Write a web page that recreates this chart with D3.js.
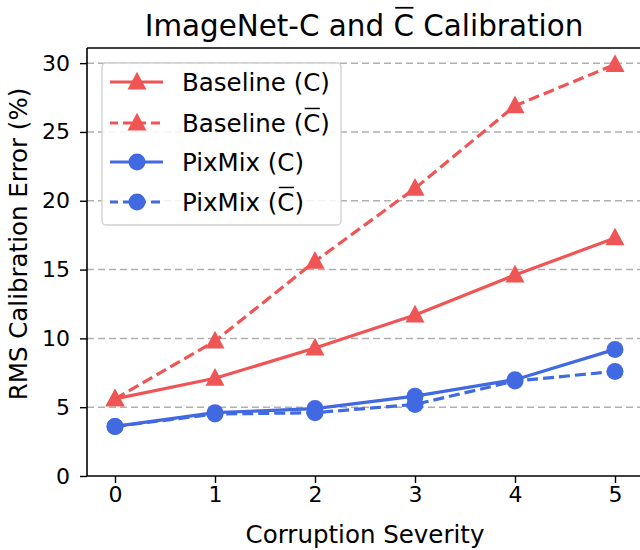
<!DOCTYPE html>
<html><head><meta charset="utf-8">
<script src="https://cdn.jsdelivr.net/npm/d3@7"></script>
<style>body{margin:0;background:#fff}svg{display:block;font-family:"DejaVu Sans",sans-serif}</style>
</head><body><svg id="c" width="640" height="550"></svg>
<script>
const severities = [0, 1, 2, 3, 4, 5];
const baselineC = [5.6, 7.1, 9.3, 11.7, 14.6, 17.3];
const baselineCbar = [5.6, 9.8, 15.6, 20.9, 26.9, 29.9];
const pixmixC = [3.6, 4.6, 4.9, 5.8, 7.0, 9.2];
const pixmixCbar = [3.6, 4.5, 4.6, 5.2, 6.9, 7.6];
const yTicks = [0, 5, 10, 15, 20, 25, 30];
const seriesNames = ["Baseline", "Baseline", "PixMix", "PixMix"];

const RED = "#ef5555", BLUE = "#4169e1";
const series = [
  {name: seriesNames[0], bar: false, vals: baselineC, color: RED, marker: "tri", dash: null},
  {name: seriesNames[1], bar: true, vals: baselineCbar, color: RED, marker: "tri", dash: "11,5"},
  {name: seriesNames[2], bar: false, vals: pixmixC, color: BLUE, marker: "circ", dash: null},
  {name: seriesNames[3], bar: true, vals: pixmixCbar, color: BLUE, marker: "circ", dash: "11,5"}
];

const svg = d3.select("#c");
const L = 87, R = 642, T = 48, B = 476;
const x = d3.scaleLinear().domain([0, 5]).range([115, 615]);
const y = d3.scaleLinear().domain([0, 31.1]).range([B, T]);

// grid
svg.append("g").selectAll("line").data(yTicks.filter(d => d > 0)).join("line")
  .attr("x1", L).attr("x2", R).attr("y1", d => y(d)).attr("y2", d => y(d))
  .attr("stroke", "#b0b0b0").attr("stroke-width", 1.5).attr("stroke-dasharray", "7,4");

function markerPath(type, cx, cy) {
  if (type === "tri") {
    const s = 9.5;
    return `M${cx},${cy - s * 1.08} L${cx + s},${cy + s * 0.78} L${cx - s},${cy + s * 0.78} Z`;
  }
  const r = 8.5;
  return `M${cx - r},${cy} a${r},${r} 0 1,0 ${2 * r},0 a${r},${r} 0 1,0 ${-2 * r},0 Z`;
}

const line = d3.line().x((d, i) => x(severities[i])).y(d => y(d));
series.forEach(s => {
  const g = svg.append("g");
  g.append("path").attr("d", line(s.vals)).attr("fill", "none")
    .attr("stroke", s.color).attr("stroke-width", 3.2)
    .attr("stroke-dasharray", s.dash);
  g.selectAll("path.m").data(s.vals).join("path").attr("class", "m")
    .attr("d", (d, i) => markerPath(s.marker, x(severities[i]), y(d)))
    .attr("fill", s.color);
});

// spines
svg.append("line").attr("x1", L).attr("x2", L).attr("y1", T).attr("y2", B).attr("stroke", "#000").attr("stroke-width", 1.6);
svg.append("line").attr("x1", L).attr("x2", R).attr("y1", B).attr("y2", B).attr("stroke", "#000").attr("stroke-width", 1.6);
svg.append("line").attr("x1", L).attr("x2", R).attr("y1", T).attr("y2", T).attr("stroke", "#000").attr("stroke-width", 1.6);

// axes
const yAxis = svg.append("g").attr("transform", `translate(${L},0)`)
  .call(d3.axisLeft(y).tickValues(yTicks).tickFormat(d3.format("d")).tickSize(7).tickPadding(10));
const xAxis = svg.append("g").attr("transform", `translate(0,${B})`)
  .call(d3.axisBottom(x).tickValues(severities).tickFormat(d3.format("d")).tickSize(7).tickPadding(3));
[yAxis, xAxis].forEach(a => {
  a.select(".domain").remove();
  a.selectAll("line").attr("stroke", "#000").attr("stroke-width", 1.4);
  a.selectAll("text").attr("font-size", 22).attr("fill", "#000").attr("font-family", "DejaVu Sans");
});

// titles
svg.append("text").attr("x", 365).attr("y", 543).attr("text-anchor", "middle")
  .attr("font-size", 24.5).text("Corruption Severity");
svg.append("text").attr("transform", "translate(27,244) rotate(-90)").attr("text-anchor", "middle")
  .attr("font-size", 24.5).text("RMS Calibration Error (%)");

function overlineText(sel, pre, over, post) {
  sel.append("tspan").text(pre);
  sel.append("tspan").attr("class", "ov").text(over);
  sel.append("tspan").text(post);
}
function addOverlines(textSel, color) {
  textSel.each(function() {
    const t = this;
    const spans = d3.select(t).selectAll("tspan").nodes();
    let idx = 0;
    spans.forEach(sp => {
      const n = sp.textContent.length;
      if (sp.getAttribute("class") === "ov") {
        const st = t.getStartPositionOfChar(idx);
        const en = t.getEndPositionOfChar(idx + n - 1);
        const fs = +d3.select(t).attr("font-size");
        const yy = st.y - fs * 0.96;
        d3.select(t.parentNode).append("line").attr("x1", st.x + fs * 0.06).attr("x2", en.x - fs * 0.02)
          .attr("y1", yy).attr("y2", yy).attr("stroke", color).attr("stroke-width", fs * 0.06);
      }
      idx += n;
    });
  });
}

const title = svg.append("text").attr("x", 364).attr("y", 36).attr("text-anchor", "middle")
  .attr("font-size", 29.4);
overlineText(title, "ImageNet-C and ", "C", " Calibration");
addOverlines(title, "#000");

// legend
const lg = svg.append("g");
lg.append("rect").attr("x", 102).attr("y", 63).attr("width", 239).attr("height", 162)
  .attr("rx", 4).attr("fill", "#fff").attr("fill-opacity", 0.85).attr("stroke", "#d0d0d0").attr("stroke-width", 1.3);
const rowY = [82, 123, 162, 202];
series.forEach((s, i) => {
  const g = lg.append("g");
  g.append("line").attr("x1", 110).attr("x2", 163).attr("y1", rowY[i]).attr("y2", rowY[i])
    .attr("stroke", s.color).attr("stroke-width", 3.2).attr("stroke-dasharray", s.dash ? "9,5" : null)
    .attr("stroke-dashoffset", s.dash ? 1 : null);
  g.append("path").attr("d", markerPath(s.marker, 137, rowY[i])).attr("fill", s.color);
  const t = g.append("text").attr("x", 182).attr("y", rowY[i] + 9).attr("font-size", 24.5);
  if (s.bar) { overlineText(t, s.name + " (", "C", ")"); addOverlines(t, "#000"); }
  else t.text(s.name + " (C)");
});
</script></body></html>
